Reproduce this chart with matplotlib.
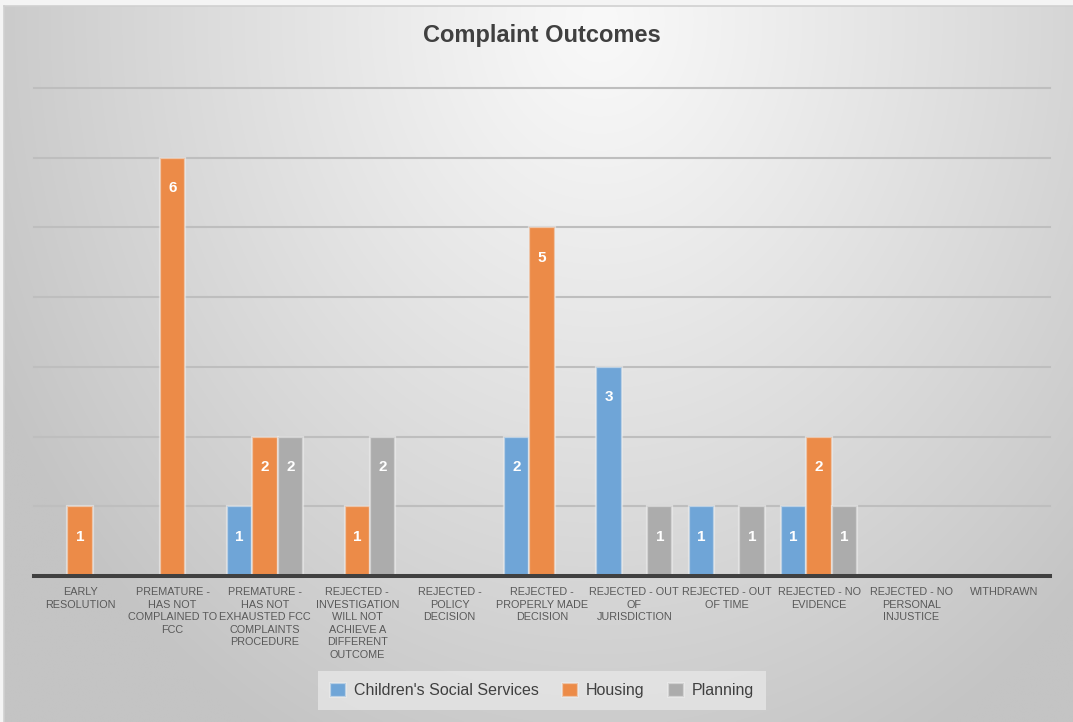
import matplotlib
matplotlib.use("Agg")
import matplotlib.pyplot as plt
import numpy as np

categories = [
    "EARLY\nRESOLUTION",
    "PREMATURE -\nHAS NOT\nCOMPLAINED TO\nFCC",
    "PREMATURE -\nHAS NOT\nEXHAUSTED FCC\nCOMPLAINTS\nPROCEDURE",
    "REJECTED -\nINVESTIGATION\nWILL NOT\nACHIEVE A\nDIFFERENT\nOUTCOME",
    "REJECTED -\nPOLICY\nDECISION",
    "REJECTED -\nPROPERLY MADE\nDECISION",
    "REJECTED - OUT\nOF\nJURISDICTION",
    "REJECTED - OUT\nOF TIME",
    "REJECTED - NO\nEVIDENCE",
    "REJECTED - NO\nPERSONAL\nINJUSTICE",
    "WITHDRAWN",
]
series_names = ["Children's Social Services", "Housing", "Planning"]
childrens = [0, 0, 1, 0, 0, 2, 3, 1, 1, 0, 0]
housing = [1, 6, 2, 1, 0, 5, 0, 0, 2, 0, 0]
planning = [0, 0, 2, 2, 0, 0, 1, 1, 1, 0, 0]
colors = ["#6FA5D7", "#EC8B48", "#ACACAC"]

plt.rcParams['font.family'] = ['Liberation Sans', 'DejaVu Sans']

W, H = 1073, 722
fig = plt.figure(figsize=(W / 100, H / 100), dpi=100, facecolor="#f4f4f4")

# background radial gradient
bg = fig.add_axes([4 / W, 0, 1 - 4 / W, (H - 6) / H], zorder=-10)
nx, ny = 540, 360
xs = np.linspace(4, W, nx)
ys = np.linspace(6, H, ny)
X, Y = np.meshgrid(xs, ys)
t = np.sqrt(((X - 600) / 680) ** 2 + ((Y - 20) / 820) ** 2)
t = np.clip(t, 0, 1)
g = (249 - 53 * t ** 1.1) / 255.0
img = np.dstack([g, g, g])
bg.imshow(img, aspect="auto", extent=[0, 1, 0, 1], origin="upper", interpolation="bilinear")
bg.set_xlim(0, 1)
bg.set_ylim(0, 1)
for s in ["right", "bottom"]:
    bg.spines[s].set_visible(False)
for s in ["top", "left"]:
    bg.spines[s].set_color("#d0d0d0")
    bg.spines[s].set_linewidth(1.2)
bg.set_xticks([])
bg.set_yticks([])

ax = fig.add_axes([34 / W, 1 - 576 / H, (1050 - 34) / W, (576 - 88) / H])
ax.set_facecolor("none")
x = np.arange(len(categories))
w = 0.275
data = [childrens, housing, planning]
handles = []
for i, (vals, c, name) in enumerate(zip(data, colors, series_names)):
    pos = x + (i - 1) * w
    bars = ax.bar(pos, vals, width=w, color=c, edgecolor=(0.93, 0.93, 0.93, 0.6),
                  linewidth=1.6, zorder=3, label=name)
    handles.append(bars)
    for px, v in zip(pos, vals):
        if v > 0:
            ax.annotate(str(v), (px, v), xytext=(0, -21.8), textcoords="offset points",
                        ha="center", va="center", color="white", fontsize=11,
                        fontweight="bold", zorder=5)

ax.set_xlim(-0.5, len(categories) - 0.5)
ax.set_ylim(0, 7)
for yv in range(1, 8):
    ax.axhline(yv, color="#bebebe", linewidth=1.5, zorder=1, clip_on=False)
ax.axhline(0, color="#404040", linewidth=2.9, zorder=4, clip_on=False)
for s in ax.spines.values():
    s.set_visible(False)
ax.set_yticks([])
ax.set_xticks(x)
ax.set_xticklabels(categories, fontsize=7.8, color="#595959", linespacing=1.32)
ax.tick_params(axis="x", length=0, pad=8)

fig.text(542 / W, 1 - 42.3 / H, "Complaint Outcomes", ha="center", va="baseline",
         fontsize=17, fontweight="bold", color="#404040")

leg = fig.legend(handles=handles, labels=series_names, loc="center",
                 bbox_to_anchor=(542 / W, 1 - 690.5 / H), ncol=3, fontsize=11.5,
                 handlelength=1.0, handleheight=1.0, handletextpad=0.45,
                 columnspacing=1.5, frameon=True, fancybox=False, borderpad=0.75)
leg.get_frame().set_facecolor("#e6e6e6")
leg.get_frame().set_edgecolor("none")
leg.get_frame().set_alpha(0.8)
for tx in leg.get_texts():
    tx.set_color("#404040")

fig.savefig("out.png", dpi=100, facecolor=fig.get_facecolor())
